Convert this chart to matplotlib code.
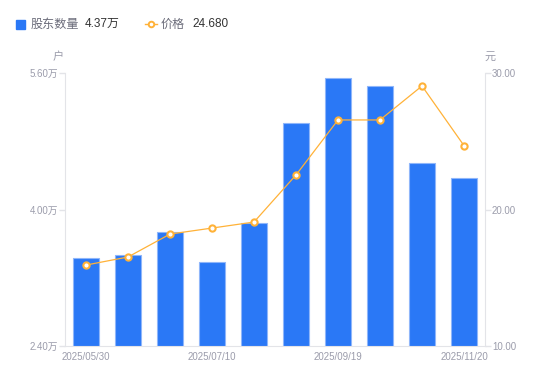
import numpy as np
import matplotlib
matplotlib.use('Agg')
import matplotlib.pyplot as plt

plt.rcParams['font.family'] = ['Liberation Sans', 'Noto Sans CJK SC', 'DejaVu Sans']

dates = ['2025/05/30', '2025/06/10', '2025/06/20', '2025/07/10', '2025/07/31',
         '2025/08/20', '2025/09/19', '2025/09/30', '2025/10/31', '2025/11/20']
holders = [3.43, 3.47, 3.74, 3.38, 3.84, 5.01, 5.54, 5.45, 4.55, 4.37]   # 万户
price = [15.93, 16.52, 18.20, 18.64, 19.08, 22.53, 26.56, 26.56, 29.05, 24.68]
left_ticks = [2.40, 4.00, 5.60]
right_ticks = [10.00, 20.00, 30.00]

blue = '#2a78f6'
orange = '#ffb238'
grey = '#9b9cab'
axis_grey = '#e3e4e8'
cjk = ['Noto Sans CJK SC', 'DejaVu Sans']

fig = plt.figure(figsize=(5.5, 3.81), dpi=100)
ax = fig.add_axes([65/550, 35/381, 420/550, 273/381])
ax2 = ax.twinx()

x = np.arange(len(dates))
ax.bar(x, holders, width=0.6, bottom=0, color=blue, edgecolor='#8fb6fa', linewidth=0.8, zorder=2)
ax.set_ylim(left_ticks[0], left_ticks[-1])
ax.set_xlim(-0.5, len(dates) - 0.5)
ax.set_yticks(left_ticks)
ax.set_yticklabels(['%.2f万' % v for v in left_ticks])
ax.set_xticks(x[::3])
ax.set_xticklabels(dates[::3])

ax2.plot(x, price, color=orange, linewidth=0.9, marker='o', markersize=4.5,
         markerfacecolor='white', markeredgecolor=orange, markeredgewidth=1.5, zorder=3)
ax2.set_ylim(right_ticks[0], right_ticks[-1])
ax2.set_yticks(right_ticks)
ax2.set_yticklabels(['%.2f' % v for v in right_ticks])

for a in (ax, ax2):
    for s in a.spines.values():
        s.set_visible(False)
    a.tick_params(colors=axis_grey, labelcolor=grey, labelsize=7, length=4, width=1)
ax.spines['left'].set_visible(True)
ax.spines['left'].set_color(axis_grey)
ax.spines['bottom'].set_visible(True)
ax.spines['bottom'].set_color(axis_grey)
ax2.spines['right'].set_visible(True)
ax2.spines['right'].set_color(axis_grey)
ax.tick_params(axis='x', length=0, pad=4)
ax.tick_params(axis='y', pad=1)
ax2.tick_params(axis='y', pad=1)
ax.set_zorder(1)
ax2.set_zorder(2)
ax2.patch.set_visible(False)

# unit labels
fig.text(58/550, 1 - 57/381, '户', color=grey, fontsize=8, ha='center', va='center', family=cjk)
fig.text(490/550, 1 - 57/381, '元', color=grey, fontsize=8, ha='center', va='center', family=cjk)

# legend
fig.patches.append(plt.Rectangle((16/550, 1 - 29/381), 9/550, 9/381, transform=fig.transFigure,
                                 color=blue, figure=fig))
fig.text(31/550, 1 - 24/381, '股东数量', color='#6b6c7a', fontsize=8.7, va='center', family=cjk)
fig.text(85/550, 1 - 24/381, '%.2f万' % holders[-1], color='#333333', fontsize=8.5, va='center')
fig.add_artist(plt.Line2D([145/550, 157/550], [1 - 24/381, 1 - 24/381], color=orange,
                          linewidth=1, transform=fig.transFigure))
fig.add_artist(plt.Line2D([151/550], [1 - 24/381], color=orange, marker='o', markersize=4,
                          markerfacecolor='white', markeredgewidth=1.4, transform=fig.transFigure))
fig.text(161/550, 1 - 24/381, '价格', color='#6b6c7a', fontsize=8.7, va='center', family=cjk)
fig.text(192/550, 1 - 24/381, '%.3f' % price[-1], color='#333333', fontsize=8.5, va='center')

fig.savefig('out.png', dpi=100)
